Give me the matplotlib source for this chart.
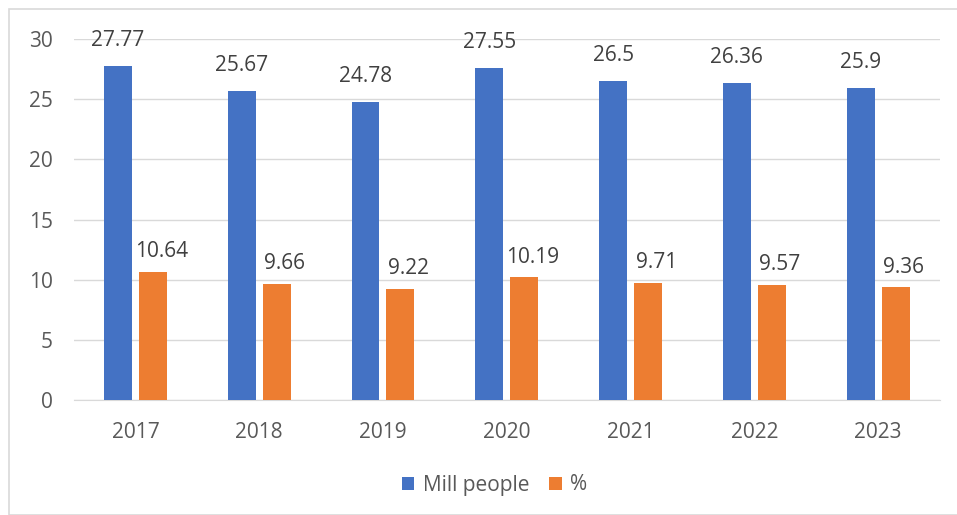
import matplotlib
matplotlib.use("Agg")
import matplotlib.pyplot as plt
import numpy as np
from matplotlib.patches import Rectangle

years = ["2017", "2018", "2019", "2020", "2021", "2022", "2023"]
mill_people = [27.77, 25.67, 24.78, 27.55, 26.5, 26.36, 25.9]
percent = [10.64, 9.66, 9.22, 10.19, 9.71, 9.57, 9.36]
series_names = ["Mill people", "%"]
yticks = [0, 5, 10, 15, 20, 25, 30]

plt.rcParams['font.family'] = ['Open Sans', 'DejaVu Sans']
txt = "#595959"

fig = plt.figure(figsize=(9.57, 5.15), dpi=100)
fig.patches.append(Rectangle((9/957, 0), 1, 1 - 9/515, transform=fig.transFigure,
                             fill=False, edgecolor="#d9d9d9", linewidth=1.2))
ax = fig.add_axes([73.5/957, 1 - 400/515, (940 - 73.5)/957, (400 - 39)/515])

x = np.arange(len(years))
w = 0.226
off = 0.141
b1 = ax.bar(x - off, mill_people, w, color="#4472c4", label=series_names[0], zorder=3)
b2 = ax.bar(x + off, percent, w, color="#ed7d31", label=series_names[1], zorder=3)

for bars, vals, dx, dy in ((b1, mill_people, 0, 11), (b2, percent, 6, 7)):
    for r, v in zip(bars, vals):
        ax.annotate(f"{v:g}", (r.get_x() + r.get_width()/2, v), xytext=(dx, dy),
                    textcoords="offset points", ha="center", va="bottom",
                    fontsize=15, color="#404040")

ax.set_xlim(-0.5, len(years) - 0.5)
ax.set_ylim(0, 30)
ax.set_yticks(yticks)
ax.set_xticks(x)
ax.set_xticklabels(years)
ax.grid(axis="y", color="#d9d9d9", linewidth=1, zorder=0)
for s in ["top", "right", "left"]:
    ax.spines[s].set_visible(False)
ax.spines["bottom"].set_color("#d9d9d9")
ax.tick_params(axis="both", length=0, labelsize=15, colors=txt)
ax.tick_params(axis="x", pad=16)
ax.tick_params(axis="y", pad=15)

fig.legend(handles=[b1, b2], loc="center", bbox_to_anchor=(494.5/957, 1 - 485/515), ncol=2,
           frameon=False, fontsize=15, handlelength=0.6, handleheight=0.6,
           handletextpad=0.4, columnspacing=0.95, labelcolor=txt)

fig.savefig("out.png", dpi=100, facecolor="white")
